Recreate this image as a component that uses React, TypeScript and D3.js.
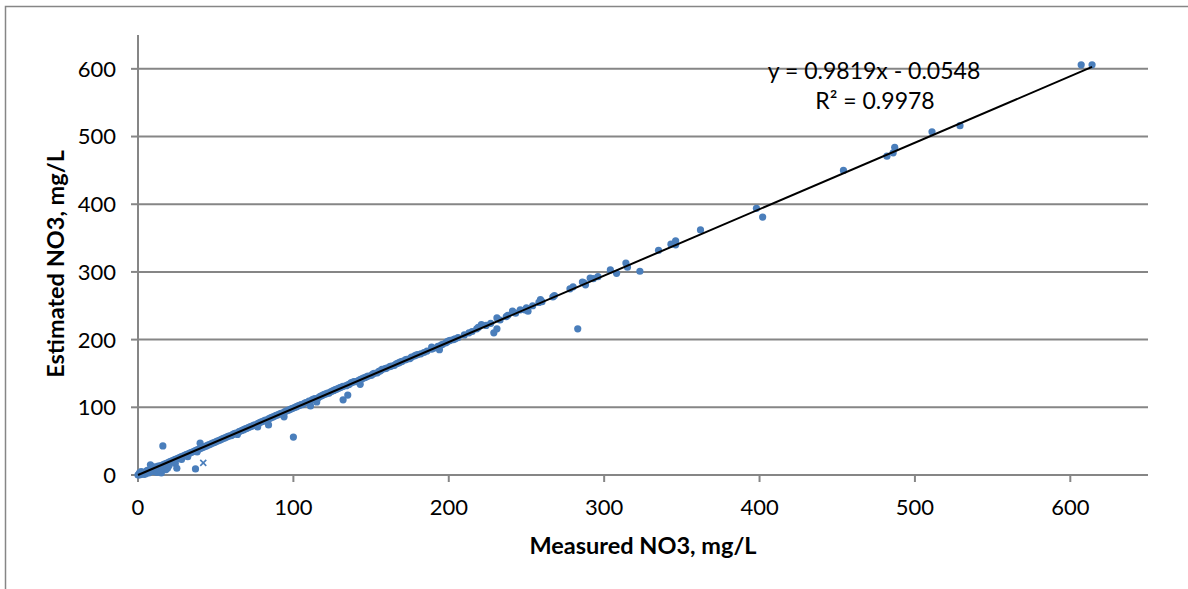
import React from "react";
import * as d3 from "d3";

// Measured vs estimated NO3 (mg/L)
const measured: number[] = [
  0, 0.5, 1, 1, 2, 2, 3, 3, 4, 4, 5, 5, 6, 6, 7, 7, 8, 8, 9, 9,
  10, 10, 11, 11, 12, 12, 13, 13, 14, 14, 15, 15, 16, 16, 17, 18, 18, 19, 19, 20, 20,
  21, 22, 23, 24, 24, 25, 25, 26, 27, 28, 28, 29, 30, 31, 32, 32, 33, 34, 35, 37, 36, 37,
  38, 38, 39, 40, 40, 41, 42, 43, 44, 45, 46, 47, 48, 49, 50, 51, 52, 53, 54, 55, 56, 57, 58, 59, 60,
  61, 62, 63, 64, 65, 66, 67, 68, 69, 70, 71, 72, 73, 74, 75, 77, 77, 78, 79, 80, 81, 82, 84, 84,
  85, 86, 87, 88, 89, 90, 91, 92, 94, 94, 95, 96, 97, 98, 100, 99, 100,
  101, 102, 103, 104, 105, 106, 107, 108, 111, 110, 112, 113, 115, 114, 116, 117, 118, 119, 120,
  121, 122, 123, 124, 125, 126, 127, 128, 129, 132, 130, 131, 132, 135, 134, 135, 136, 137, 138,
  139, 140, 143, 142, 143, 144, 145, 146, 147, 148, 150,
  151, 152, 154, 155, 156, 157, 159, 160, 162, 163, 165, 166, 167, 168, 169, 170, 172, 173, 175,
  176, 178, 179, 180, 182, 184, 186, 189, 189, 190, 194, 193, 195, 196, 198, 199, 200, 201, 203,
  204, 206, 210, 213, 215, 218, 221, 219, 224, 227, 229, 231, 231, 233,
  238, 237, 241, 243, 246, 249, 250, 251, 254, 259, 258, 260, 267, 268, 278, 280, 283, 287, 286,
  288, 291, 293, 296, 304, 308, 314, 315, 323,
  335, 343, 346, 346, 362, 398, 402, 454, 482, 486, 487, 511, 529, 607, 614,
];
const estimated: number[] = [
  0, 1, 0, 3, 1, 5, 2, 4, 3, 1, 5, 2, 4, 7, 6, 3, 8, 15, 7, 12,
  10, 5, 9, 12, 11, 4, 13, 8, 7, 13, 14, 3, 15, 43, 16, 17, 8, 18, 10, 19, 14,
  20, 21, 22, 23, 17, 10, 24, 25, 26, 27, 23, 28, 29, 30, 31, 27, 32, 33, 34, 9, 35, 36,
  34, 37, 38, 39, 47, 40, 41, 42, 43, 44, 45, 46, 47, 48, 49, 50, 51, 52, 53, 54, 55, 56, 57, 58, 58,
  60, 61, 62, 60, 64, 65, 66, 67, 68, 69, 70, 71, 72, 73, 74, 71, 76, 77, 78, 79, 80, 81, 74, 83,
  84, 85, 86, 87, 88, 89, 90, 91, 86, 93, 94, 95, 96, 97, 56, 98, 99,
  100, 101, 102, 103, 104, 104, 106, 107, 102, 109, 111, 112, 108, 113, 114, 116, 117, 118, 119,
  120, 121, 121, 123, 124, 125, 126, 127, 128, 111, 129, 130, 131, 118, 132, 133, 134, 136, 137,
  138, 138, 134, 140, 141, 142, 143, 144, 145, 146, 147,
  149, 150, 151, 153, 154, 156, 157, 158, 160, 161, 162, 164, 165, 166, 167, 168, 170, 171, 172,
  174, 176, 177, 178, 179, 181, 183, 189, 186, 187, 185, 190, 192, 193, 195, 197, 198, 199, 200,
  201, 203, 207, 210, 212, 216, 222, 218, 221, 224, 210, 216, 232, 229,
  236, 234, 242, 239, 244, 244, 247, 242, 250, 259, 255, 256, 263, 265, 275, 278, 216, 284, 285,
  281, 291, 290, 293, 303, 298, 313, 307, 301,
  332, 341, 340, 346, 362, 394, 381, 450, 471, 476, 484, 507, 516, 606, 606,
];
// single point drawn with an "x" marker
const crossMeasured: number[] = [42];
const crossEstimated: number[] = [18];

const xTicks: number[] = [0, 100, 200, 300, 400, 500, 600];
const yTicks: number[] = [0, 100, 200, 300, 400, 500, 600];
const slope = 0.9819;
const intercept = -0.0548;
const equationText = "y = 0.9819x - 0.0548";
const r2Text = "R² = 0.9978";
const xTitle = "Measured NO3, mg/L";
const yTitle = "Estimated NO3, mg/L";

export default function App() {
  const W = 1188, H = 589;
  const left = 138, right = 1148, top = 35, bottom = 475;
  const x = d3.scaleLinear().domain([0, 650]).range([left, right]);
  const y = d3.scaleLinear().domain([0, 650]).range([bottom, top]);
  const grid = "#868686";
  const blue = "#4a7ebb";
  const font = "Lato, 'Open Sans', sans-serif";
  const xMin = d3.min(measured) as number;
  const xMax = d3.max(measured) as number;
  const line = d3.line<number>().x((v) => x(v)).y((v) => y(slope * v + intercept));

  return (
    <svg width={W} height={H} style={{ position: "absolute", left: 0, top: 0 }} fontFamily={font}>
      <rect x={0} y={0} width={W} height={H} fill="#fff" />
      <path d={`M5.5,${H} L5.5,6.5 L${W},6.5`} fill="none" stroke={grid} strokeWidth={1.5} />
      {yTicks.filter((t) => t > 0).map((t) => (
        <line key={"g" + t} x1={left} x2={right} y1={y(t)} y2={y(t)} stroke={grid} strokeWidth={2} />
      ))}
      {yTicks.map((t) => (
        <g key={"yt" + t}>
          <line x1={left - 7} x2={left} y1={y(t)} y2={y(t)} stroke={grid} strokeWidth={2} />
          <text x={116} y={y(t)} dy="0.36em" textAnchor="end" fontSize={22} fill="#000">{t}</text>
        </g>
      ))}
      {xTicks.map((t) => (
        <g key={"xt" + t}>
          <line x1={x(t)} x2={x(t)} y1={bottom} y2={bottom + 7} stroke={grid} strokeWidth={2} />
          <text x={x(t)} y={515} textAnchor="middle" fontSize={22} fill="#000">{t}</text>
        </g>
      ))}
      <line x1={left} x2={left} y1={top} y2={bottom} stroke={grid} strokeWidth={2} />
      <line x1={left} x2={right} y1={bottom} y2={bottom} stroke={grid} strokeWidth={2} />
      {measured.map((m, i) => (
        <circle key={"p" + i} cx={x(m)} cy={y(estimated[i])} r={3.6} fill={blue} />
      ))}
      {crossMeasured.map((m, i) => (
        <g key={"c" + i} stroke={blue} strokeWidth={1.6}>
          <line x1={x(m) - 3} x2={x(m) + 3} y1={y(crossEstimated[i]) - 3} y2={y(crossEstimated[i]) + 3} />
          <line x1={x(m) - 3} x2={x(m) + 3} y1={y(crossEstimated[i]) + 3} y2={y(crossEstimated[i]) - 3} />
        </g>
      ))}
      <path d={line([xMin, xMax]) || ""} fill="none" stroke="#000" strokeWidth={2} />
      <text x={874} y={79} textAnchor="middle" fontSize={23} fill="#000">{equationText}</text>
      <text x={875} y={109} textAnchor="middle" fontSize={23} fill="#000">{r2Text}</text>
      <text x={(left + right) / 2} y={554} textAnchor="middle" fontSize={23.5} fontWeight="bold" fill="#000">{xTitle}</text>
      <text transform={`translate(64,264) rotate(-90)`} textAnchor="middle" fontSize={23.5} fontWeight="bold" fill="#000">{yTitle}</text>
    </svg>
  );
}
